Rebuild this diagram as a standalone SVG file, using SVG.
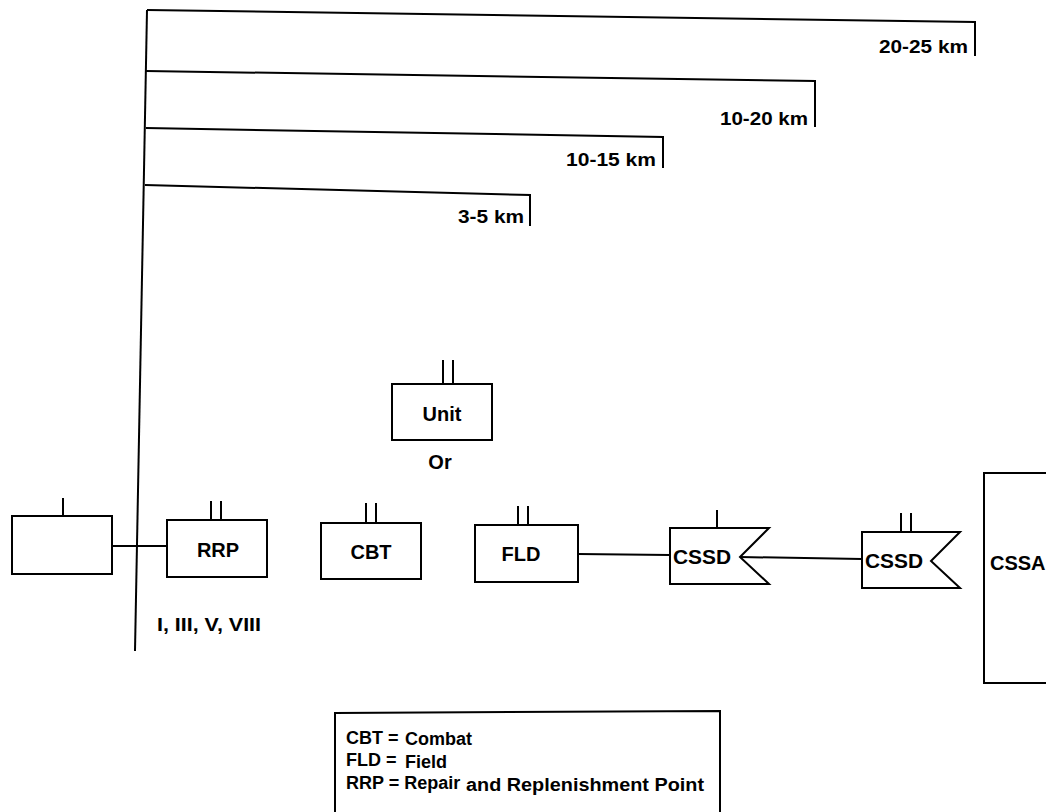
<svg xmlns="http://www.w3.org/2000/svg" width="1046" height="812" viewBox="0 0 1046 812">
<style>
.ln{stroke:#000;stroke-width:2;fill:none}
.bx{stroke:#000;stroke-width:2;fill:#fff}
.t{font-family:"Liberation Sans",Arial,sans-serif;font-weight:bold;fill:#000}
.lab{font-size:20px;text-anchor:middle}
.km{font-size:19px}
.lg{font-size:18px}
</style>
<rect width="1046" height="812" fill="#fff"/>
<g id="scale">
<line class="ln" x1="147" y1="10" x2="135" y2="651"/>
<polyline class="ln" points="147,10 975,22 975,56"/>
<text class="t km" x="879" y="53" textLength="89" lengthAdjust="spacingAndGlyphs">20-25 km</text>
<polyline class="ln" points="146,71 815,81 815,127"/>
<text class="t km" x="720" y="125" textLength="88" lengthAdjust="spacingAndGlyphs">10-20 km</text>
<polyline class="ln" points="146,128 663,137 663,168"/>
<text class="t km" x="566" y="166" textLength="90" lengthAdjust="spacingAndGlyphs">10-15 km</text>
<polyline class="ln" points="145,185 530,195 530,226"/>
<text class="t km" x="458" y="223" textLength="66" lengthAdjust="spacingAndGlyphs">3-5 km</text>
</g>
<g id="connectors">
<line class="ln" x1="112" y1="546" x2="167" y2="546"/>
<line class="ln" x1="578" y1="554" x2="670" y2="555"/>
<line class="ln" x1="740" y1="557" x2="862" y2="559"/>
</g>
<g id="unit">
<line class="ln" x1="443" y1="360" x2="443" y2="384"/>
<line class="ln" x1="453" y1="360" x2="453" y2="384"/>
<rect class="bx" x="392" y="384" width="100" height="56"/>
<text class="t lab" x="442" y="421">Unit</text>
</g>
<text class="t lab" x="440" y="469">Or</text>
<g id="left-node">
<line class="ln" x1="63" y1="498" x2="63" y2="516"/>
<rect class="bx" x="12" y="516" width="100" height="58"/>
</g>
<g id="rrp">
<line class="ln" x1="211" y1="501" x2="211" y2="520"/>
<line class="ln" x1="221" y1="501" x2="221" y2="520"/>
<rect class="bx" x="167" y="520" width="100" height="57"/>
<text class="t lab" x="218" y="557">RRP</text>
</g>
<text class="t" x="157" y="631" font-size="19" textLength="104" lengthAdjust="spacingAndGlyphs">I, III, V, VIII</text>
<g id="cbt">
<line class="ln" x1="366" y1="503" x2="366" y2="523"/>
<line class="ln" x1="376" y1="503" x2="376" y2="523"/>
<rect class="bx" x="321" y="523" width="100" height="56"/>
<text class="t lab" x="371" y="559">CBT</text>
</g>
<g id="fld">
<line class="ln" x1="518" y1="506" x2="518" y2="525"/>
<line class="ln" x1="528" y1="506" x2="528" y2="525"/>
<rect class="bx" x="475" y="525" width="103" height="57"/>
<text class="t lab" x="521" y="561">FLD</text>
</g>
<g id="cssd1">
<line class="ln" x1="717" y1="510" x2="717" y2="528"/>
<path class="bx" d="M670,528 H769 L740,557 L769,584 H670 Z"/>
<text class="t" x="673" y="564" font-size="20" textLength="58" lengthAdjust="spacingAndGlyphs">CSSD</text>
</g>
<g id="cssd2">
<line class="ln" x1="901" y1="513" x2="901" y2="532"/>
<line class="ln" x1="911" y1="513" x2="911" y2="532"/>
<path class="bx" d="M862,532 H960 L931,561 L960,588 H862 Z"/>
<text class="t" x="865" y="568" font-size="20" textLength="58" lengthAdjust="spacingAndGlyphs">CSSD</text>
</g>
<g id="cssa">
<rect class="bx" x="984" y="473" width="80" height="210"/>
<text class="t" x="990" y="570" font-size="20">CSSA</text>
</g>
<g id="legend">
<path class="ln" d="M335,820 V713 L720,711 V820"/>
<text class="t lg" x="346" y="744">CBT =</text>
<text class="t lg" x="405" y="745">Combat</text>
<text class="t lg" x="346" y="766">FLD =</text>
<text class="t lg" x="405" y="768">Field</text>
<text class="t lg" x="346" y="789">RRP = Repair</text>
<text class="t lg" x="466" y="791" textLength="238" lengthAdjust="spacingAndGlyphs">and Replenishment Point</text>
</g>
</svg>
